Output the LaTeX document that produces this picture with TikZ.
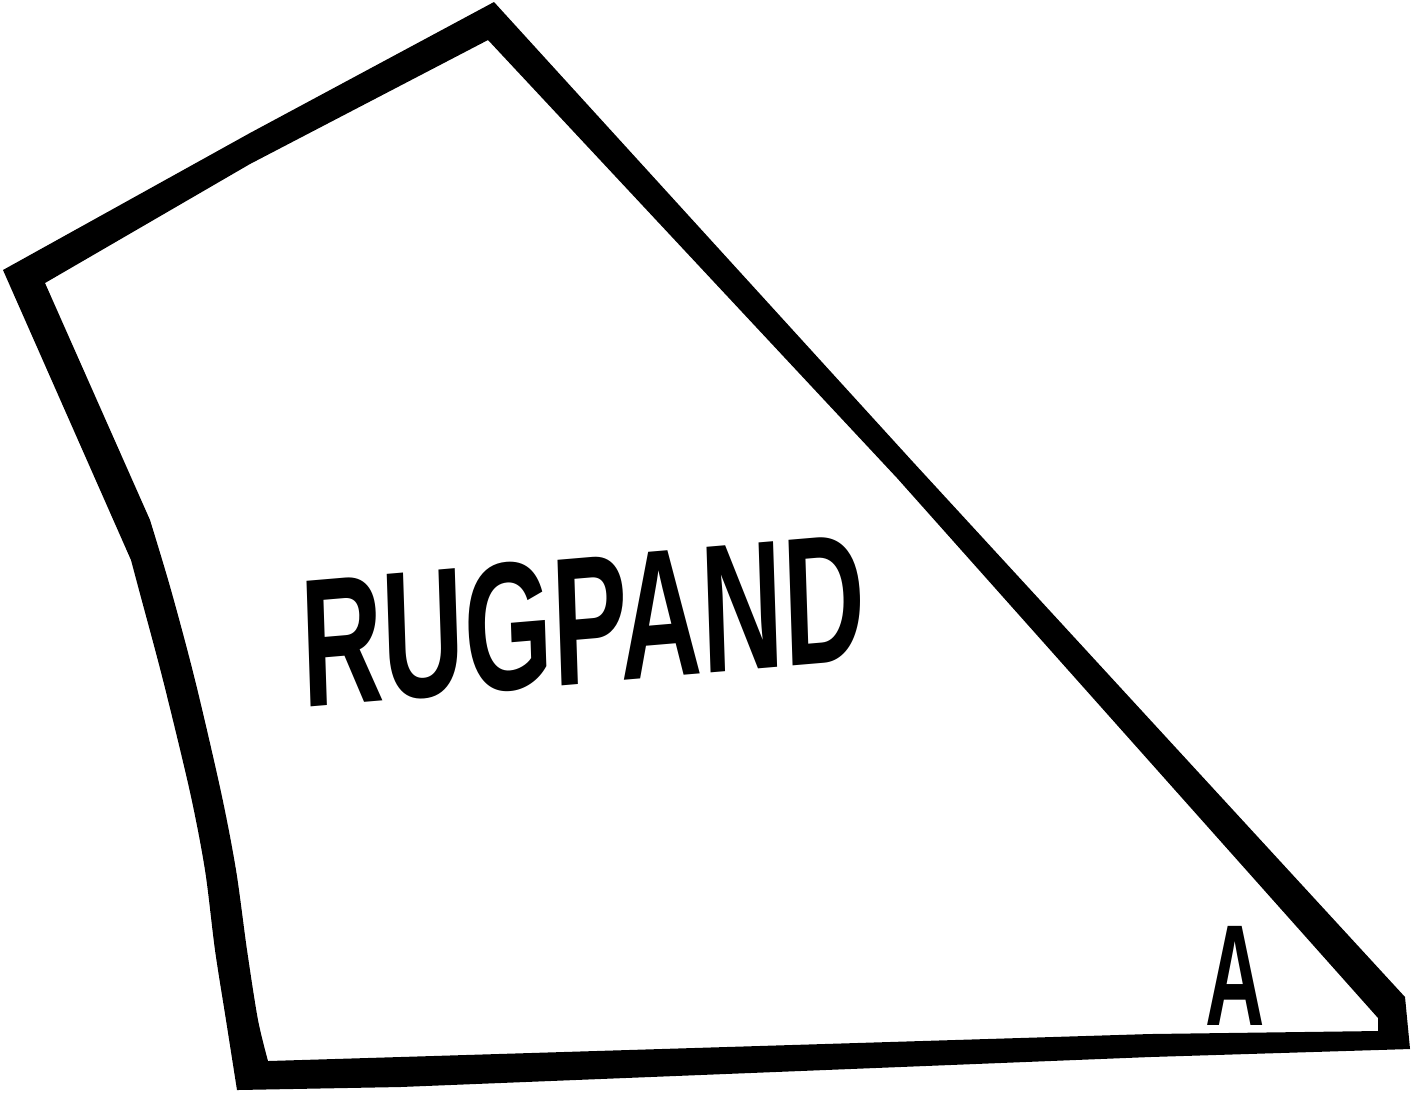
\documentclass[tikz,border=0pt]{standalone}
\usepackage{fontspec}
\setmainfont{Liberation Sans}
\tikzset{
  hand/.style={inner sep=0pt, font=\bfseries\fontsize{52}{56}\selectfont, xscale=0.62},
  handsmall/.style={hand, font=\bfseries\fontsize{41}{44}\selectfont, xscale=0.92},
}
\begin{document}
\begin{tikzpicture}[x=0.1mm,y=-0.1mm]
  \useasboundingbox (0,0) rectangle (1420,1092);
  % border: outer edge, then inner edge
  \fill[even odd rule]
    (494,2) -- (913,462) -- (1405,997)
    -- (1410,1049) -- (1150,1057) -- (400,1087) -- (237,1090)
    -- plot[smooth, tension=0.5] coordinates {(237,1090) (226,1020) (215,950) (205,870) (190,792) (163,680) (139,590) (131,560)}
    -- (3,270) -- (250,133) -- cycle
    (488,40) -- (250,164) -- (45,283) -- (150,520)
    -- plot[smooth, tension=0.5] coordinates {(150,520) (171,590) (195,680) (221,792) (236,870) (247,950) (258,1020) (268,1061)}
    -- (400,1057) -- (1150,1034) -- (1378,1031) -- (1378,1018)
    -- (897,478) -- cycle;
  \node[hand, rotate=3] (rugpand) at (583,621) {RUGPAND};
  \node[handsmall] (cornerA) at (1235,976) {A};
\end{tikzpicture}
\end{document}
